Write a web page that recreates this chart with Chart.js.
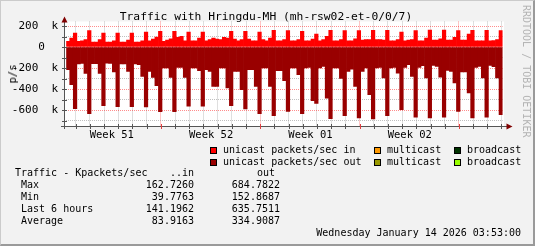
<!DOCTYPE html>
<html>
<head>
<meta charset="utf-8">
<script src="https://cdn.jsdelivr.net/npm/chart.js@4/dist/chart.umd.min.js"></script>
<style>
  html, body { margin: 0; padding: 0; }
  body { width: 535px; height: 246px; background: #f2f2f2; position: relative; overflow: hidden;
         font-family: "DejaVu Sans Mono", monospace; color: #000; }
  #grafico { position: absolute; left: 0; top: 0; }
  .t { position: absolute; white-space: pre; font-size: 10px; line-height: 12px; }
  .box { position: absolute; width: 5px; height: 5px; border: 1px solid #000; }
  #frame { position: absolute; left: 0; top: 0; width: 535px; height: 246px; box-sizing: border-box;
           border-top: 1px solid #cbcbcb; border-left: 1px solid #cbcbcb;
           border-right: 2px solid #9a9a9a; border-bottom: 2px solid #9a9a9a; pointer-events: none; }
</style>
</head>
<body>
<canvas id="grafico" width="535" height="246"></canvas>
<div class="t" style="left:0;width:532px;top:10px;line-height:14px;font-size:11.3px;text-align:center;">Traffic with Hringdu-MH (mh-rsw02-et-0/0/7)</div>
<div class="t" style="left:12px;top:74px;transform:translate(-50%,-50%) rotate(-90deg);font-size:10.5px;">p/s</div>
<div class="t" style="left:532px;top:5px;transform:rotate(90deg);transform-origin:0 0;color:#b4b4b4;">RRDTOOL / TOBI OETIKER</div>
<div id="legend"></div>
<div id="frame"></div>
<script>
// 6-hour samples, thousands of packets/sec
const inData = [
  54, 86, 133, 54, 60, 70, 156, 48, 48, 70, 133, 48, 48, 60, 133, 48,
  48, 67, 133, 48, 48, 60, 143, 60, 76, 95, 149, 54, 67, 79, 149, 92,
  102, 60, 143, 60, 60, 86, 143, 60, 70, 86, 76, 70, 92, 86, 149, 76,
  60, 70, 149, 76, 60, 60, 143, 70, 60, 86, 160, 60, 60, 70, 156, 60,
  60, 70, 149, 60, 60, 76, 124, 60, 70, 102, 159, 60, 60, 70, 156, 60,
  60, 79, 156, 67, 70, 70, 160, 70, 70, 67, 160, 60, 60, 70, 143, 60,
  65, 70, 156, 60, 60, 86, 162, 67, 67, 79, 162, 67, 67, 92, 156, 67,
  67, 124, 160, 60, 60, 60, 160, 60, 62, 70, 156
];
const outData = [
  -216, -359, -587, -162, -156, -251, -635, -159, -159, -251, -559, -153, -156, -238, -568, -162,
  -162, -232, -568, -162, -168, -279, -571, -232, -289, -368, -616, -200, -200, -289, -616, -194,
  -194, -289, -562, -200, -200, -225, -562, -216, -232, -375, -375, -200, -200, -390, -559, -232,
  -232, -406, -590, -216, -216, -375, -635, -200, -200, -375, -654, -225, -225, -321, -613, -200,
  -200, -263, -635, -200, -194, -511, -537, -200, -184, -486, -683, -200, -200, -300, -654, -232,
  -210, -375, -676, -232, -200, -454, -684, -200, -194, -295, -654, -200, -194, -248, -597, -194,
  -168, -279, -667, -194, -178, -295, -676, -175, -184, -286, -667, -222, -232, -343, -613, -238,
  -238, -438, -676, -194, -184, -295, -667, -175, -187, -295, -644
];
const weekLabels = ["Week 51", "Week 52", "Week 01", "Week 02"];

const legendIn = ["unicast packets/sec in", "multicast", "broadcast"];
const legendOut = ["unicast packets/sec out", "multicast", "broadcast"];
const coloursIn = ["#ff0000", "#ff9900", "#003300"];
const coloursOut = ["#990000", "#999900", "#99ff00"];

const statNames = ["Max", "Min", "Last 6 hours", "Average"];
const statIn = ["162.7260", "39.7763", "141.1962", "83.9163"];
const statOut = ["684.7822", "152.8687", "635.7511", "334.9087"];
const stamp = "Wednesday January 14 2026 03:53:00";

// legend + table
const leg = document.getElementById("legend");
function addText(txt, css) {
  const d = document.createElement("div");
  d.className = "t";
  d.textContent = txt;
  d.style.cssText = css;
  leg.appendChild(d);
}
const boxX = [210, 374, 454];
const textX = [223, 387, 467];
[[legendIn, coloursIn, 147], [legendOut, coloursOut, 159]].forEach(([names, cols, top]) => {
  names.forEach((n, i) => {
    const b = document.createElement("div");
    b.className = "box";
    b.style.cssText = `left:${boxX[i]}px;top:${top}px;background:${cols[i]};`;
    leg.appendChild(b);
    addText(n, `left:${textX[i]}px;top:${top - 3}px;`);
  });
});
addText("Traffic - Kpackets/sec", "left:15px;top:167px;");
addText("..in", "right:341px;top:167px;");
addText("out", "left:257px;top:167px;");
statNames.forEach((n, i) => {
  const top = 179 + i * 12;
  addText(n, `left:21px;top:${top}px;`);
  addText(statIn[i], `right:341px;top:${top}px;`);
  addText(statOut[i], `right:255px;top:${top}px;`);
});
addText(stamp, "right:14px;top:227px;");

// grid positions in sample units (4 samples a day)
const firstMidnight = 2.68;
const dayLines = [];
for (let k = 0; firstMidnight + 4 * k <= inData.length; k++) dayLines.push(firstMidnight + 4 * k);
const weekLabelAt = weekLabels.map((w, j) => firstMidnight + 10.17 + 28 * j);

const gridRed = "rgba(255,0,0,0.45)";
const gridGrey = "rgba(150,150,150,0.6)";
const yLabel = v => (v % 200 !== 0 ? "" : v === 0 ? "0  " : v + "  k");

const rrdFrame = {
  id: "rrdFrame",
  beforeDraw(chart) {
    const { ctx, chartArea: a } = chart;
    ctx.save();
    ctx.fillStyle = "#fff";
    ctx.fillRect(64, a.top, 504 - 64, a.bottom - a.top);
    ctx.restore();
  },
  afterDraw(chart) {
    const { ctx, scales } = chart;
    ctx.save();
    ctx.lineWidth = 1;
    ctx.strokeStyle = "#555";
    ctx.beginPath();
    ctx.moveTo(64.5, 20); ctx.lineTo(64.5, 129);
    ctx.moveTo(61, 126.5); ctx.lineTo(507, 126.5);
    ctx.stroke();
    // little tick marks on the axes
    dayLines.forEach((v, k) => {
      const x = Math.round(scales.x.getPixelForValue(v)) + 0.5;
      ctx.strokeStyle = k % 7 === 6 ? "#e04040" : "#555";
      ctx.beginPath(); ctx.moveTo(x, 124); ctx.lineTo(x, 129); ctx.stroke();
    });
    ctx.strokeStyle = "#555";
    scales.y.ticks.forEach(t => {
      const y = Math.round(scales.y.getPixelForValue(t.value)) + 0.5;
      ctx.beginPath(); ctx.moveTo(62, y); ctx.lineTo(67, y); ctx.stroke();
    });
    // y tick labels, right-aligned left of the axis
    ctx.fillStyle = "#000";
    ctx.font = '11px "DejaVu Sans Mono"';
    ctx.textAlign = "right";
    ctx.textBaseline = "middle";
    scales.y.ticks.forEach(t => {
      const s = yLabel(t.value);
      if (s) ctx.fillText(s, 58.2, scales.y.getPixelForValue(t.value));
    });
    ctx.fillStyle = "#800000";
    ctx.beginPath(); ctx.moveTo(64.5, 16.5); ctx.lineTo(67.5, 22.5); ctx.lineTo(61.5, 22.5); ctx.closePath(); ctx.fill();
    ctx.beginPath(); ctx.moveTo(512.5, 126.5); ctx.lineTo(506.5, 123.5); ctx.lineTo(506.5, 129.5); ctx.closePath(); ctx.fill();
    ctx.restore();
  }
};

const ctx = document.getElementById("grafico").getContext("2d");
new Chart(ctx, {
  type: "bar",
  data: {
    datasets: [
      {
        label: legendIn[0],
        data: inData.map((v, i) => ({ x: i + 0.5, y: v })),
        backgroundColor: coloursIn[0]
      },
      {
        label: legendOut[0],
        data: outData.map((v, i) => ({ x: i + 0.5, y: v })),
        backgroundColor: coloursOut[0]
      }
    ]
  },
  options: {
    responsive: false,
    animation: false,
    devicePixelRatio: 1,
    datasets: { bar: { grouped: false, barPercentage: 1, categoryPercentage: 1, borderWidth: 0 } },
    layout: { padding: { left: 0, right: 535 - 502.6, top: 21.5, bottom: 0 } },
    plugins: { legend: { display: false }, tooltip: { enabled: false }, title: { display: false } },
    scales: {
      x: {
        type: "linear", min: 0, max: inData.length, z: 1, offset: false,
        afterFit: s => { s.height = 0; },
        afterBuildTicks: s => { s.ticks = dayLines.map(v => ({ value: v })); },
        ticks: { display: false },
        grid: {
          offset: false, drawTicks: false, tickLength: 0, lineWidth: 1,
          color: c => (c.index % 7 === 6 ? gridRed : gridGrey)
        },
        border: { display: false, dash: [1, 1] }
      },
      xw: {
        type: "linear", position: "bottom", min: 0, max: inData.length, offset: false,
        afterFit: s => { s.height = 120; },
        afterBuildTicks: s => { s.ticks = weekLabelAt.map(v => ({ value: v })); },
        ticks: {
          autoSkip: false, maxRotation: 0, padding: 3, color: "#000",
          font: { family: "DejaVu Sans Mono", size: 10.5 },
          callback: (v, i) => weekLabels[i]
        },
        grid: { display: false, offset: false, drawTicks: false, tickLength: 0 },
        border: { display: false }
      },
      y: {
        min: -752, max: 243, z: 1,
        afterFit: s => { s.width = 66.2; },
        afterBuildTicks: s => {
          const t = [];
          for (let v = -700; v <= 200; v += 100) t.push({ value: v });
          s.ticks = t;
        },
        ticks: { display: false },
        grid: {
          drawTicks: false, tickLength: 0, lineWidth: 1,
          color: c => (c.tick && c.tick.value % 200 === 0 ? gridRed : gridGrey)
        },
        border: { display: false, dash: [1, 1] }
      }
    }
  },
  plugins: [rrdFrame]
});
</script>
</body>
</html>
